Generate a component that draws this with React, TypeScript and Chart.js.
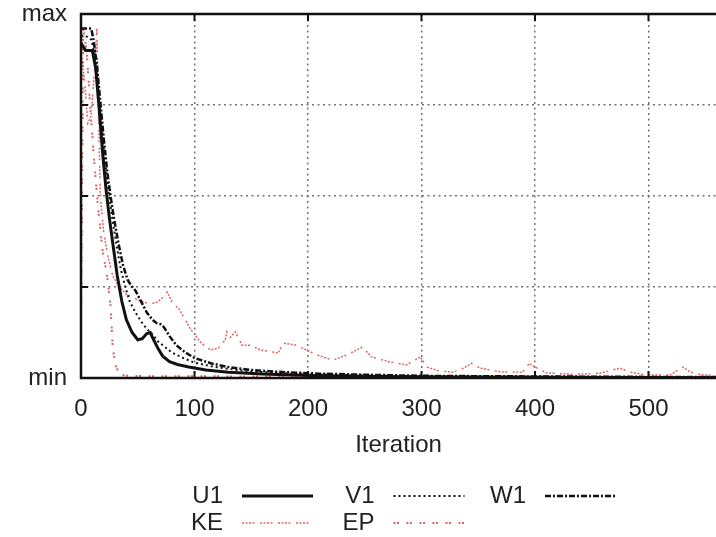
import React, { useEffect, useRef } from "react";
import { Chart, registerables } from "chart.js";
Chart.register(...registerables);

// ---- data (iteration, normalised value between min=0 and max=1) ----
const u1Iter = [0, 4, 10, 13, 16, 19, 22, 25, 28, 32, 36, 40, 45, 50, 54, 58, 61, 64, 68, 72, 78, 85, 95, 110, 130, 160, 200, 260, 330, 420, 560];
const u1Val = [0.92, 0.9, 0.9, 0.85, 0.74, 0.62, 0.52, 0.44, 0.37, 0.28, 0.21, 0.16, 0.125, 0.105, 0.108, 0.122, 0.125, 0.105, 0.08, 0.06, 0.045, 0.037, 0.03, 0.022, 0.016, 0.011, 0.007, 0.004, 0.003, 0.002, 0.001];

const v1Iter = [0, 4, 9, 12, 15, 18, 21, 24, 27, 31, 35, 39, 43, 48, 53, 58, 63, 68, 74, 80, 90, 100, 115, 130, 150, 180, 220, 270, 330, 420, 560];
const v1Val = [0.94, 0.94, 0.93, 0.89, 0.8, 0.7, 0.6, 0.52, 0.45, 0.37, 0.3, 0.25, 0.21, 0.18, 0.155, 0.135, 0.12, 0.1, 0.085, 0.07, 0.055, 0.042, 0.032, 0.025, 0.018, 0.013, 0.009, 0.006, 0.004, 0.003, 0.002];

const w1Iter = [0, 3, 9, 11, 14, 17, 20, 23, 26, 29, 33, 37, 41, 44, 48, 53, 58, 63, 67, 70, 73, 78, 84, 92, 100, 115, 130, 150, 180, 210, 250, 300, 350, 420, 500, 560];
const w1Val = [0.96, 0.96, 0.96, 0.93, 0.86, 0.76, 0.66, 0.57, 0.5, 0.44, 0.37, 0.31, 0.27, 0.255, 0.24, 0.21, 0.18, 0.16, 0.15, 0.148, 0.14, 0.115, 0.09, 0.07, 0.055, 0.04, 0.03, 0.022, 0.016, 0.012, 0.009, 0.006, 0.005, 0.004, 0.003, 0.003];

const keIter = [0, 3, 6, 9, 12, 14, 15, 17, 20, 24, 28, 34, 40, 50, 58, 65, 70, 73, 76, 80, 87, 96, 105, 114, 121, 127, 128.5, 131, 136, 142, 149, 158, 174, 178, 190, 208, 222, 234, 248, 256, 272, 287, 299, 305, 316, 328, 337, 344, 352, 369, 389, 395, 402, 410, 434, 457, 475, 484, 498, 519, 530, 537, 548, 560];
const keVal = [0.9, 0.82, 0.7, 0.72, 0.85, 0.96, 0.8, 0.5, 0.4, 0.33, 0.28, 0.25, 0.23, 0.215, 0.206, 0.205, 0.215, 0.225, 0.236, 0.21, 0.187, 0.137, 0.099, 0.077, 0.082, 0.104, 0.126, 0.11, 0.126, 0.09, 0.09, 0.077, 0.069, 0.096, 0.09, 0.063, 0.049, 0.063, 0.085, 0.058, 0.044, 0.036, 0.058, 0.03, 0.019, 0.016, 0.027, 0.04, 0.027, 0.017, 0.016, 0.04, 0.027, 0.014, 0.01, 0.013, 0.027, 0.016, 0.008, 0.008, 0.03, 0.016, 0.008, 0.008];

const epIter = [0, 2, 5, 8, 11, 15, 19, 23, 26, 28, 31, 34, 40, 60, 100, 150, 200, 300, 400, 500, 560];
const epVal = [0.14, 0.96, 0.9, 0.75, 0.62, 0.47, 0.35, 0.28, 0.2, 0.08, 0.03, 0.01, 0.006, 0.005, 0.005, 0.004, 0.004, 0.004, 0.003, 0.003, 0.003];

const xTicks = [0, 100, 200, 300, 400, 500];
const yTicks = [0, 0.25, 0.5, 0.75, 1];
const yTickText = ["min", "", "", "", "max"];
const xTitle = "Iteration";

const RED = "rgb(222, 100, 100)";
const BLACK = "#111";
const FONT = "'Liberation Sans', Arial, sans-serif";

const pts = (xs: number[], ys: number[]) => xs.map((x, i) => ({ x, y: ys[i] }));

const framePlugin = {
  id: "frameAndLegend",
  afterDraw(chart: any) {
    const { ctx, chartArea: a, scales } = chart;
    ctx.save();
    // frame
    ctx.setLineDash([]);
    ctx.strokeStyle = BLACK;
    ctx.lineWidth = 2.5;
    ctx.beginPath();
    ctx.moveTo(a.right + 5, a.top);
    ctx.lineTo(a.left, a.top);
    ctx.lineTo(a.left, a.bottom);
    ctx.lineTo(a.right + 5, a.bottom);
    ctx.stroke();
    // tick marks
    ctx.lineWidth = 2;
    ctx.beginPath();
    xTicks.forEach((v) => {
      if (v === 0) return;
      const px = scales.x.getPixelForValue(v);
      ctx.moveTo(px, a.bottom);
      ctx.lineTo(px, a.bottom - 7);
      ctx.moveTo(px, a.top);
      ctx.lineTo(px, a.top + 7);
    });
    yTicks.forEach((v) => {
      if (v === 0 || v === 1) return;
      const py = scales.y.getPixelForValue(v);
      ctx.moveTo(a.left, py);
      ctx.lineTo(a.left + 7, py);
    });
    ctx.stroke();
    // legend
    ctx.font = `24px ${FONT}`;
    ctx.textAlign = "right";
    ctx.textBaseline = "middle";
    chart.data.datasets.forEach((ds: any, i: number) => {
      const col = i % 3;
      const row = Math.floor(i / 3);
      const y = 496 + row * 27;
      const tx = 223 + col * 151.5;
      const sx = 242 + col * 151.5;
      ctx.fillStyle = "#222";
      ctx.fillText(ds.label, tx, y);
      ctx.strokeStyle = ds.borderColor;
      ctx.lineWidth = ds.borderWidth;
      ctx.setLineDash(ds.borderDash || []);
      ctx.beginPath();
      ctx.moveTo(sx, y);
      ctx.lineTo(sx + 71, y);
      ctx.stroke();
    });
    ctx.restore();
  },
};

export default function App() {
  const ref = useRef<HTMLCanvasElement>(null);
  useEffect(() => {
    if (!ref.current) return;
    const chart = new Chart(ref.current, {
      type: "line",
      data: {
        datasets: [
          { label: "U1", data: pts(u1Iter, u1Val), borderColor: BLACK, borderWidth: 3, borderDash: [] },
          { label: "V1", data: pts(v1Iter, v1Val), borderColor: BLACK, borderWidth: 2, borderDash: [2, 3] },
          { label: "W1", data: pts(w1Iter, w1Val), borderColor: BLACK, borderWidth: 2.5, borderDash: [6, 2, 2, 2] },
          { label: "KE", data: pts(keIter, keVal), borderColor: RED, borderWidth: 1.5, borderDash: [2, 1.5, 2, 1.5, 2, 1.5, 2, 5.5] },
          { label: "EP", data: pts(epIter, epVal), borderColor: RED, borderWidth: 2, borderDash: [2, 1.5, 2, 7.5] },
        ] as any,
      },
      options: {
        animation: false,
        responsive: true,
        maintainAspectRatio: false,
        parsing: false as any,
        elements: { point: { radius: 0 }, line: { tension: 0, borderCapStyle: "butt" } },
        layout: { padding: { top: 14, right: 0, left: 0, bottom: 77.6 } },
        plugins: { legend: { display: false }, tooltip: { enabled: false } },
        scales: {
          x: {
            type: "linear",
            min: 0,
            max: 559.5,
            afterBuildTicks: (s: any) => { s.ticks = xTicks.map((v) => ({ value: v })); },
            afterFit: (s: any) => { s.height = 81.4; s.paddingLeft = 0; s.paddingRight = 0; },
            ticks: { padding: 17, color: "#222", font: { family: FONT, size: 24 }, maxRotation: 0 },
            grid: { color: "rgba(90,90,90,0.85)", lineWidth: 1.5, drawTicks: false },
            border: { display: false, dash: [2, 3.5] },
            title: { display: true, text: xTitle, color: "#222", font: { family: FONT, size: 24 }, padding: 0 },
          },
          y: {
            type: "linear",
            min: 0,
            max: 1,
            afterBuildTicks: (s: any) => { s.ticks = yTicks.map((v) => ({ value: v })); },
            afterFit: (s: any) => { s.width = 81; s.paddingTop = 0; s.paddingBottom = 0; },
            ticks: {
              padding: 14,
              color: "#222",
              font: { family: FONT, size: 24 },
              callback: (v: any) => { const i = yTicks.indexOf(Number(v)); return i >= 0 ? yTickText[i] : ""; },
            },
            grid: { color: "rgba(90,90,90,0.85)", lineWidth: 1.5, drawTicks: false },
            border: { display: false, dash: [2, 3.5] },
          },
        },
      } as any,
      plugins: [framePlugin],
    });
    return () => chart.destroy();
  }, []);
  return (
    <div style={{ position: "absolute", left: 0, top: 0, width: 716, height: 537, overflow: "hidden", background: "#fff" }}>
      <canvas ref={ref} />
    </div>
  );
}
